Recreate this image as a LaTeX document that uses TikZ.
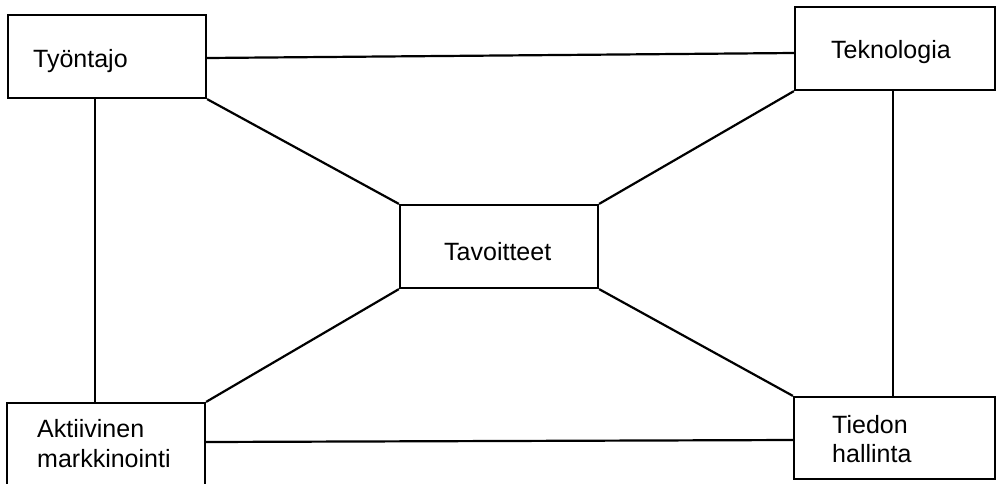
\documentclass[tikz,border=0pt]{standalone}
\usepackage{fontspec}
\setmainfont{Liberation Sans}
\begin{document}
\begin{tikzpicture}[x=1pt,y=-1pt,
  box/.style={draw=black, line width=2.2pt, rectangle, inner sep=0pt, fill=none},
  lbl/.style={anchor=base west, inner sep=0pt, font=\fontsize{25}{29}\selectfont},
  link/.style={draw=black, line width=2.2pt}]
  \clip (0,0) rectangle (996,483);
  \fill[white] (0,0) rectangle (996,483);

  % boxes
  \node[box, minimum width=198pt, minimum height=83pt] (tyo) at (107,56.5) {};
  \node[box, minimum width=200pt, minimum height=83pt] (tek) at (895,48.5) {};
  \node[box, minimum width=198pt, minimum height=83pt] (tav) at (499,246.5) {};
  \node[box, minimum width=198pt, minimum height=86pt] (akt) at (106,446) {};
  \node[box, minimum width=201pt, minimum height=82pt] (tie) at (894.5,438) {};

  % labels
  \node[lbl] (tyoL) at (33,67) {Työntajo};
  \node[lbl] (tekL) at (831,58) {Teknologia};
  \node[lbl] (tavL) at (444,260) {Tavoitteet};
  \node[lbl] (aktL1) at (37,437) {Aktiivinen};
  \node[lbl] (aktL2) at (37,467) {markkinointi};
  \node[lbl] (tieL1) at (832,433) {Tiedon};
  \node[lbl] (tieL2) at (832,462) {hallinta};

  % outer frame connections
  \draw[link] ([yshift=-1.5pt]tyo.east) -- ([yshift=-4.5pt]tek.west);
  \draw[link] ([yshift=4pt]akt.east) -- ([yshift=-2pt]tie.west);
  \draw[link] ([xshift=-12pt]tyo.south) -- ([xshift=-11pt]akt.north);
  \draw[link] ([xshift=-2pt]tek.south) -- ([xshift=-1.5pt]tie.north);

  % spokes to the centre
  \draw[link] (tyo.south east) -- (tav.north west);
  \draw[link] (tek.south west) -- (tav.north east);
  \draw[link] (akt.north east) -- (tav.south west);
  \draw[link] (tie.north west) -- (tav.south east);
\end{tikzpicture}
\end{document}
